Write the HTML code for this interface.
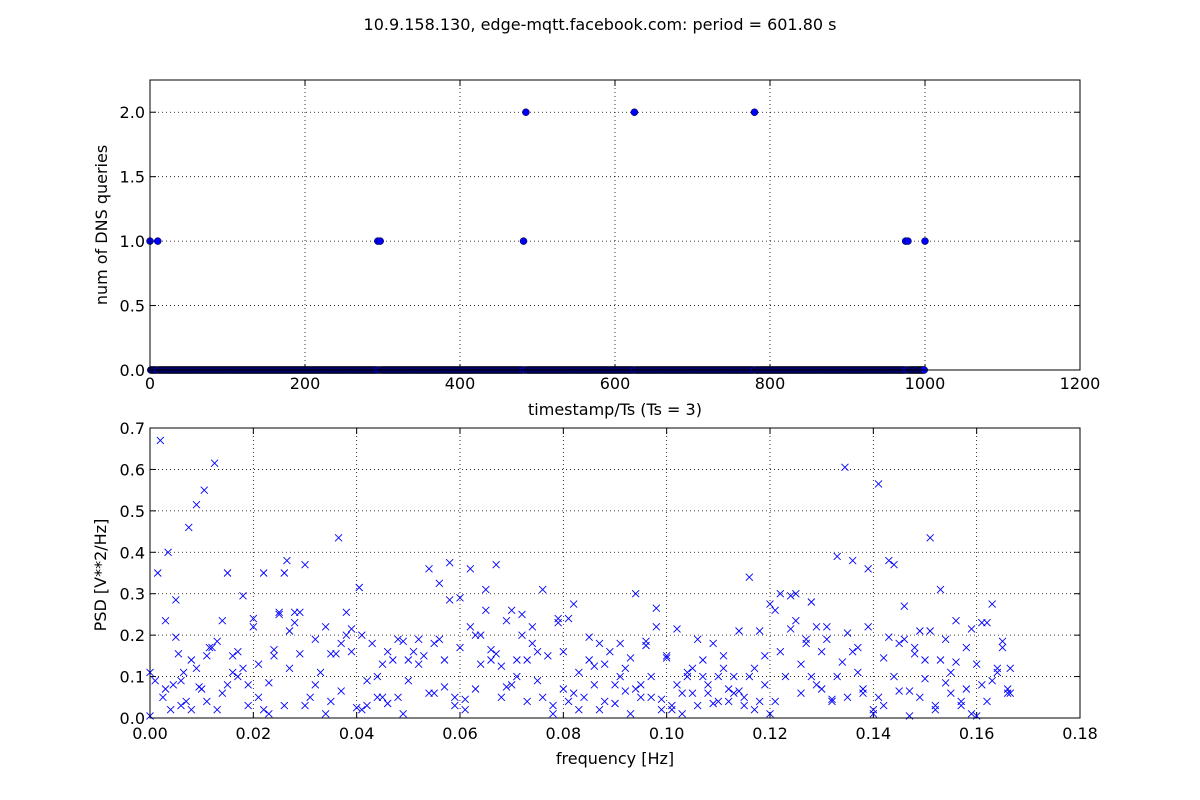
<!DOCTYPE html>
<html><head><meta charset="utf-8"><style>
body{margin:0;background:#fff;}
svg{display:block;font-family:"DejaVu Sans","Liberation Sans",sans-serif;}
</style></head><body>
<svg id="c" width="1200" height="800">
<rect width="1200" height="800" fill="#fff"/>
<text x="600" y="30" font-size="16" text-anchor="middle">10.9.158.130, edge-mqtt.facebook.com: period = 601.80 s</text>
</svg>
<script>
// top: DNS query events (timestamp, count); all other timestamps 0..1000 have count 0
const eventTimes = [0, 10, 294, 297, 482, 485, 625, 780, 975, 978, 1000];
const eventCounts = [1, 1, 1, 1, 1, 2, 2, 2, 1, 1, 1];
const lastTimestamp = 1000;
const topXTicks = [0, 200, 400, 600, 800, 1000, 1200];
const topYTicks = ["0.0", "0.5", "1.0", "1.5", "2.0"];
// bottom: PSD points [frequency, psd]
const psdPoints = [[0.000,0.11],[0.000,0.005],[0.001,0.09],[0.0015,0.35],[0.002,0.67],[0.0025,0.05],[0.003,0.07],[0.003,0.235],[0.0035,0.40],[0.004,0.02],[0.0045,0.08],[0.005,0.195],[0.005,0.285],[0.0055,0.155],[0.006,0.09],[0.006,0.03],[0.0065,0.11],[0.007,0.04],[0.0075,0.46],[0.008,0.14],[0.008,0.02],[0.009,0.515],[0.009,0.12],[0.0095,0.075],[0.010,0.07],[0.0105,0.55],[0.011,0.15],[0.011,0.04],[0.0115,0.17],[0.012,0.17],[0.0125,0.615],[0.013,0.02],[0.013,0.185],[0.014,0.235],[0.014,0.06],[0.015,0.35],[0.015,0.08],[0.016,0.15],[0.016,0.11],[0.017,0.16],[0.017,0.10],[0.018,0.295],[0.018,0.12],[0.019,0.03],[0.019,0.08],[0.020,0.22],[0.020,0.24],[0.021,0.05],[0.021,0.13],[0.022,0.35],[0.022,0.02],[0.023,0.085],[0.023,0.01],[0.024,0.15],[0.024,0.165],[0.025,0.255],[0.025,0.25],[0.026,0.03],[0.026,0.35],[0.0265,0.38],[0.027,0.21],[0.027,0.12],[0.028,0.255],[0.028,0.23],[0.029,0.155],[0.029,0.255],[0.030,0.37],[0.030,0.03],[0.031,0.05],[0.032,0.19],[0.032,0.08],[0.033,0.11],[0.034,0.22],[0.034,0.01],[0.035,0.155],[0.035,0.04],[0.036,0.155],[0.0365,0.435],[0.037,0.065],[0.037,0.18],[0.038,0.255],[0.038,0.20],[0.039,0.16],[0.039,0.215],[0.040,0.025],[0.0405,0.315],[0.041,0.20],[0.041,0.02],[0.042,0.09],[0.042,0.03],[0.043,0.18],[0.044,0.10],[0.044,0.05],[0.045,0.05],[0.045,0.13],[0.046,0.16],[0.046,0.035],[0.047,0.14],[0.048,0.19],[0.048,0.05],[0.049,0.01],[0.049,0.185],[0.050,0.14],[0.050,0.09],[0.051,0.16],[0.052,0.19],[0.052,0.13],[0.053,0.15],[0.054,0.36],[0.054,0.06],[0.055,0.06],[0.055,0.18],[0.056,0.325],[0.056,0.19],[0.057,0.075],[0.057,0.14],[0.058,0.285],[0.058,0.375],[0.059,0.03],[0.059,0.05],[0.060,0.17],[0.060,0.29],[0.061,0.02],[0.061,0.045],[0.062,0.36],[0.062,0.22],[0.063,0.20],[0.063,0.07],[0.064,0.20],[0.064,0.13],[0.065,0.26],[0.065,0.31],[0.066,0.165],[0.066,0.14],[0.067,0.37],[0.067,0.155],[0.068,0.125],[0.068,0.05],[0.069,0.075],[0.069,0.235],[0.070,0.26],[0.070,0.08],[0.071,0.14],[0.071,0.10],[0.072,0.25],[0.072,0.20],[0.073,0.04],[0.073,0.14],[0.074,0.18],[0.074,0.22],[0.075,0.09],[0.075,0.16],[0.076,0.31],[0.076,0.05],[0.077,0.15],[0.078,0.03],[0.078,0.01],[0.079,0.23],[0.079,0.24],[0.080,0.07],[0.080,0.16],[0.081,0.24],[0.081,0.04],[0.082,0.06],[0.082,0.275],[0.083,0.11],[0.083,0.02],[0.084,0.05],[0.085,0.14],[0.085,0.195],[0.086,0.08],[0.086,0.125],[0.087,0.18],[0.087,0.02],[0.088,0.13],[0.088,0.04],[0.089,0.16],[0.090,0.08],[0.090,0.035],[0.091,0.10],[0.091,0.18],[0.092,0.12],[0.092,0.065],[0.093,0.145],[0.093,0.01],[0.094,0.30],[0.094,0.07],[0.095,0.08],[0.095,0.05],[0.096,0.185],[0.096,0.175],[0.097,0.10],[0.097,0.05],[0.098,0.22],[0.098,0.265],[0.099,0.045],[0.099,0.02],[0.100,0.145],[0.100,0.15],[0.101,0.03],[0.101,0.02],[0.102,0.08],[0.102,0.215],[0.103,0.06],[0.103,0.01],[0.104,0.11],[0.104,0.10],[0.105,0.06],[0.105,0.12],[0.106,0.19],[0.106,0.03],[0.107,0.10],[0.107,0.14],[0.108,0.06],[0.108,0.08],[0.109,0.18],[0.109,0.035],[0.110,0.04],[0.110,0.10],[0.111,0.12],[0.111,0.15],[0.112,0.04],[0.112,0.07],[0.113,0.10],[0.113,0.06],[0.114,0.21],[0.114,0.065],[0.115,0.03],[0.115,0.05],[0.116,0.34],[0.116,0.10],[0.117,0.12],[0.117,0.02],[0.118,0.21],[0.118,0.04],[0.119,0.15],[0.119,0.08],[0.120,0.275],[0.120,0.01],[0.121,0.26],[0.121,0.04],[0.122,0.30],[0.122,0.16],[0.123,0.10],[0.124,0.215],[0.124,0.295],[0.125,0.235],[0.125,0.30],[0.126,0.13],[0.126,0.06],[0.127,0.18],[0.127,0.19],[0.128,0.28],[0.128,0.10],[0.129,0.08],[0.129,0.22],[0.130,0.16],[0.130,0.07],[0.131,0.22],[0.131,0.19],[0.132,0.04],[0.132,0.045],[0.133,0.39],[0.133,0.10],[0.134,0.135],[0.1345,0.605],[0.135,0.205],[0.135,0.05],[0.136,0.38],[0.136,0.16],[0.137,0.17],[0.137,0.11],[0.138,0.07],[0.138,0.06],[0.139,0.36],[0.139,0.22],[0.140,0.01],[0.140,0.02],[0.141,0.565],[0.141,0.05],[0.142,0.145],[0.142,0.03],[0.143,0.38],[0.143,0.195],[0.144,0.37],[0.144,0.10],[0.145,0.065],[0.145,0.18],[0.146,0.27],[0.146,0.19],[0.147,0.005],[0.147,0.065],[0.148,0.17],[0.148,0.155],[0.149,0.21],[0.149,0.05],[0.150,0.095],[0.150,0.14],[0.151,0.21],[0.151,0.435],[0.152,0.02],[0.152,0.03],[0.153,0.14],[0.153,0.31],[0.154,0.19],[0.154,0.085],[0.155,0.06],[0.155,0.11],[0.156,0.235],[0.156,0.135],[0.157,0.04],[0.157,0.03],[0.158,0.07],[0.158,0.17],[0.159,0.01],[0.159,0.215],[0.160,0.005],[0.160,0.13],[0.161,0.23],[0.161,0.08],[0.162,0.04],[0.162,0.23],[0.163,0.09],[0.163,0.275],[0.164,0.11],[0.164,0.12],[0.165,0.17],[0.165,0.185],[0.166,0.06],[0.166,0.07],[0.1665,0.12],[0.1665,0.06]];
const botXTicks = ["0.00","0.02","0.04","0.06","0.08","0.10","0.12","0.14","0.16","0.18"];
const botYTicks = ["0.0","0.1","0.2","0.3","0.4","0.5","0.6","0.7"];

const NS = "http://www.w3.org/2000/svg";
const svg = document.getElementById('c');
function mk(tag, attrs, parent){const e=document.createElementNS(NS,tag);for(const k in attrs)e.setAttribute(k,attrs[k]);(parent||svg).appendChild(e);return e;}

const L=150,R=1080;
const tx=v=>L+v*(R-L)/1200, ty=v=>370-v*290/2.25;
const bx=v=>L+v*(R-L)/0.18, by=v=>718-v*290/0.7;

function axesFrame(top,bottom,name){
  const g=mk('g',{});
  
  
  return g;
}
// ---- top axes
const gt=axesFrame(80,370,'top-axes');
topXTicks.forEach(v=>{const x=tx(v);
  if(v>0&&v<1200){const l=mk('line',{x1:x,x2:x,y1:80,y2:370,stroke:'#000','stroke-dasharray':'1,3','stroke-width':0.8},gt);}
  mk('line',{x1:x,x2:x,y1:370,y2:364,stroke:'#000'},gt);mk('line',{x1:x,x2:x,y1:80,y2:86,stroke:'#000'},gt);
  const t=mk('text',{x:x,y:389,'font-size':16,'text-anchor':'middle'},gt);t.textContent=v;
  });
topYTicks.forEach(s=>{const v=+s,y=ty(v);
  if(v>0){const l=mk('line',{x1:L,x2:R,y1:y,y2:y,stroke:'#000','stroke-dasharray':'1,3','stroke-width':0.8},gt);}
  mk('line',{x1:L,x2:L+6,y1:y,y2:y,stroke:'#000'},gt);mk('line',{x1:R,x2:R-6,y1:y,y2:y,stroke:'#000'},gt);
  const t=mk('text',{x:L-5,y:y+6,'font-size':16,'text-anchor':'end'},gt);t.textContent=s;
  });
// zero counts
const zt=[];for(let t=0;t<=lastTimestamp;t++){if(!eventTimes.includes(t))zt.push(t);}
const zg=mk('g',{},gt);
zt.forEach(t=>{mk('circle',{cx:tx(t),cy:ty(0),r:3.5,fill:'#0000ff',stroke:'#000','stroke-width':0.5},zg);});
eventTimes.forEach((t,i)=>{const c=mk('circle',{cx:tx(t),cy:ty(eventCounts[i]),r:3.5,fill:'#0000ff',stroke:'#000','stroke-width':0.5},gt);
  });
mk('rect',{x:L,y:80,width:R-L,height:290,fill:'none',stroke:'#000','stroke-width':1},gt);
let t1=mk('text',{x:615,y:415,'font-size':16,'text-anchor':'middle'});t1.textContent='timestamp/Ts (Ts = 3)';

let t2=mk('text',{x:107,y:225,'font-size':16,'text-anchor':'middle',transform:'rotate(-90 107 225)'});t2.textContent='num of DNS queries';

// ---- bottom axes
const gb=axesFrame(428,718,'bottom-axes');
botXTicks.forEach(s=>{const v=+s,x=bx(v);
  if(v>0&&v<0.18){const l=mk('line',{x1:x,x2:x,y1:428,y2:718,stroke:'#000','stroke-dasharray':'1,3','stroke-width':0.8},gb);}
  mk('line',{x1:x,x2:x,y1:718,y2:712,stroke:'#000'},gb);mk('line',{x1:x,x2:x,y1:428,y2:434,stroke:'#000'},gb);
  const t=mk('text',{x:x,y:739,'font-size':16,'text-anchor':'middle'},gb);t.textContent=s;
  });
botYTicks.forEach(s=>{const v=+s,y=by(v);
  if(v>0&&v<0.7){const l=mk('line',{x1:L,x2:R,y1:y,y2:y,stroke:'#000','stroke-dasharray':'1,3','stroke-width':0.8},gb);}
  mk('line',{x1:L,x2:L+6,y1:y,y2:y,stroke:'#000'},gb);mk('line',{x1:R,x2:R-6,y1:y,y2:y,stroke:'#000'},gb);
  const t=mk('text',{x:L-5,y:y+6,'font-size':16,'text-anchor':'end'},gb);t.textContent=s;
  });
psdPoints.forEach(p=>{const x=bx(p[0]),y=by(p[1]);
  const pth=mk('path',{d:`M${x-3.5},${y-3.5}L${x+3.5},${y+3.5}M${x-3.5},${y+3.5}L${x+3.5},${y-3.5}`,stroke:'#0000ff','stroke-width':0.9,fill:'none'},gb);
  });
mk('rect',{x:L,y:428,width:R-L,height:290,fill:'none',stroke:'#000','stroke-width':1},gb);
let t3=mk('text',{x:615,y:764,'font-size':16,'text-anchor':'middle'});t3.textContent='frequency [Hz]';

let t4=mk('text',{x:106,y:575,'font-size':16,'text-anchor':'middle',transform:'rotate(-90 106 575)'});t4.textContent='PSD [V**2/Hz]';

</script>
</body></html>
